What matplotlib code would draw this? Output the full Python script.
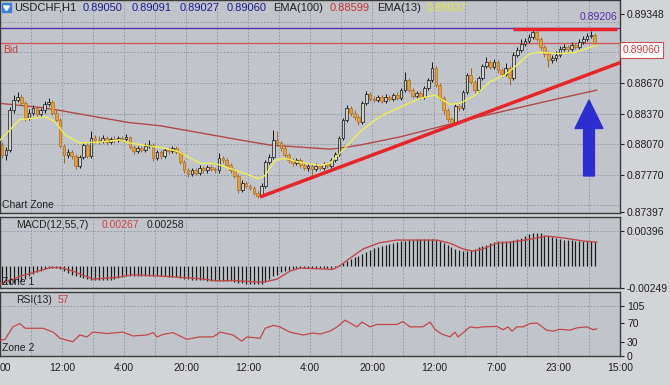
import matplotlib
matplotlib.use("Agg")
import matplotlib.pyplot as plt
import matplotlib.patches as mpatches
import matplotlib.transforms as mtrans
import numpy as np

plt.rcParams["font.family"] = ["Liberation Sans", "DejaVu Sans"]

###############################################################################
# Data (prices in pips, 1 pip = 0.0001)
###############################################################################
first_open = 8806
closes = [
    8796, 8801, 8840, 8850, 8853, 8847, 8833, 8838, 8842, 8837,
    8840, 8846, 8848, 8838, 8831, 8805, 8796, 8799, 8795, 8785,
    8794, 8806, 8795, 8813, 8811, 8810, 8813, 8809, 8812, 8811,
    8813, 8812, 8814, 8804, 8800, 8803, 8801, 8805, 8806, 8793,
    8799, 8795, 8801, 8800, 8803, 8799, 8789, 8781, 8778, 8781,
    8779, 8783, 8781, 8784, 8782, 8781, 8793, 8791, 8786, 8781,
    8776, 8762, 8769, 8766, 8764, 8759, 8756, 8766, 8789, 8794,
    8811, 8808, 8803, 8796, 8791, 8788, 8791, 8786, 8783, 8785,
    8782, 8785, 8783, 8787, 8785, 8791, 8797, 8813, 8831, 8842,
    8838, 8834, 8829, 8847, 8856, 8851, 8850, 8853, 8849, 8853,
    8851, 8855, 8852, 8860, 8870, 8860, 8854, 8857, 8853, 8862,
    8870, 8882, 8865, 8852, 8840, 8832, 8828, 8844, 8842, 8858,
    8875, 8868, 8860, 8872, 8884, 8888, 8883, 8888, 8880, 8876,
    8882, 8872, 8895, 8899, 8905, 8908, 8912, 8917, 8910, 8902,
    8896, 8890, 8892, 8895, 8900, 8902, 8900, 8904, 8902, 8907,
    8910, 8913, 8914, 8906,
]
highs = [
    8809, 8804, 8843, 8855, 8858, 8856, 8849, 8841, 8845, 8844,
    8842, 8849, 8852, 8850, 8840, 8833, 8807, 8802, 8801, 8797,
    8796, 8808, 8808, 8820, 8816, 8815, 8816, 8815, 8814, 8815,
    8815, 8815, 8817, 8815, 8806, 8805, 8805, 8808, 8811, 8808,
    8801, 8801, 8803, 8804, 8805, 8805, 8800, 8791, 8783, 8783,
    8783, 8786, 8785, 8786, 8786, 8784, 8798, 8795, 8793, 8788,
    8783, 8778, 8772, 8771, 8768, 8766, 8761, 8769, 8791, 8797,
    8821, 8820, 8810, 8805, 8798, 8793, 8793, 8793, 8788, 8787,
    8787, 8788, 8787, 8789, 8789, 8793, 8799, 8815, 8833, 8845,
    8844, 8840, 8836, 8849, 8859, 8858, 8854, 8855, 8855, 8856,
    8855, 8857, 8858, 8862, 8878, 8872, 8862, 8859, 8859, 8864,
    8872, 8888, 8884, 8867, 8854, 8842, 8834, 8846, 8847, 8860,
    8877, 8882, 8870, 8874, 8886, 8893, 8890, 8891, 8890, 8882,
    8887, 8884, 8897, 8902, 8910, 8911, 8915, 8921, 8919, 8912,
    8904, 8898, 8895, 8898, 8903, 8905, 8904, 8907, 8906, 8910,
    8913, 8916, 8918, 8916,
]
lows = [
    8793, 8791, 8799, 8838, 8848, 8845, 8830, 8831, 8836, 8835,
    8834, 8838, 8844, 8836, 8829, 8803, 8788, 8793, 8792, 8782,
    8783, 8792, 8793, 8793, 8808, 8807, 8808, 8806, 8807, 8808,
    8809, 8810, 8810, 8802, 8797, 8798, 8799, 8799, 8803, 8790,
    8791, 8792, 8793, 8797, 8798, 8797, 8787, 8779, 8775, 8776,
    8777, 8777, 8779, 8779, 8780, 8779, 8779, 8788, 8784, 8779,
    8774, 8759, 8760, 8764, 8762, 8757, 8754, 8755, 8764, 8787,
    8792, 8805, 8800, 8794, 8788, 8785, 8786, 8783, 8781, 8780,
    8775, 8780, 8781, 8781, 8783, 8783, 8789, 8795, 8811, 8829,
    8835, 8831, 8826, 8827, 8845, 8849, 8848, 8848, 8847, 8847,
    8849, 8849, 8850, 8850, 8858, 8858, 8852, 8852, 8851, 8851,
    8860, 8868, 8863, 8850, 8837, 8829, 8824, 8826, 8839, 8840,
    8856, 8866, 8857, 8858, 8870, 8882, 8881, 8881, 8877, 8873,
    8874, 8865, 8870, 8893, 8897, 8903, 8906, 8910, 8908, 8899,
    8893, 8883, 8887, 8889, 8893, 8898, 8897, 8898, 8900, 8900,
    8905, 8908, 8911, 8903,
]
opens = [first_open] + closes[:-1]  # each candle opens at previous close

# moving averages (bar index, pips)
ema13_x = [-0.5, 4.6, 9.8, 11.1, 13.7, 16.3, 20.1, 25.3, 30.5, 33, 38.2, 42,
           45.9, 51.1, 55, 58.8, 62.7, 66.1, 67.9, 70.5, 73, 76.9, 82.1,
           84.6, 88.5, 92.4, 97.5, 102.7, 107.9, 111.7, 115.6, 118.2, 122.1,
           125.9, 129.8, 132.4, 136.3, 138.8, 144, 147.9, 151.7, 153.5]
ema13_y = [8811, 8831, 8833, 8834, 8829, 8816, 8808, 8809, 8811, 8808, 8805,
           8803, 8799, 8788, 8788, 8783, 8778, 8773, 8776, 8791, 8793, 8789,
           8786, 8788, 8803, 8819, 8834, 8843, 8852, 8855, 8846, 8847, 8855,
           8868, 8875, 8883, 8896, 8897, 8896, 8897, 8902, 8904]
ema100_x = [-0.5, 9.8, 15, 25.3, 33, 40.8, 51.1, 61.4, 69.2, 76.9, 84.6, 87.2,
            92.4, 102.7, 113, 123.4, 133.7, 144, 153.5]
ema100_y = [8847, 8843, 8840, 8833, 8828, 8825, 8818, 8811, 8806, 8804, 8802,
            8803, 8806, 8814, 8824, 8834, 8843, 8852, 8860]

# drawn objects
trend_x = [66.6, 159.5]
trend_y = [0.87550, 0.88870]
resist_x = [132, 158.7]
resist_y = [0.89200, 0.89200]
bid = 0.89060
high_line = 0.89206

# MACD (units of 0.00001)
macd_hist = [
    -210, -205, -200, -190, -180, -170, -150, -120, -95, -75,
    -55, -40, -30, -25, -25, -35, -55, -80, -100, -115,
    -130, -140, -150, -160, -165, -165, -160, -160, -155, -150,
    -140, -130, -120, -110, -110, -110, -110, -110, -110, -115,
    -115, -120, -120, -125, -125, -130, -135, -145, -150, -155,
    -160, -160, -165, -170, -170, -175, -175, -170, -170, -175,
    -180, -190, -195, -200, -205, -210, -210, -200, -180, -150,
    -120, -100, -75, -55, -45, -35, -30, -30, -30, -30,
    -30, -30, -30, -30, -30, -25, -15, 5, 30, 55,
    75, 95, 110, 135, 160, 180, 200, 215, 225, 235,
    245, 255, 265, 275, 285, 290, 295, 300, 300, 300,
    300, 300, 295, 280, 260, 240, 215, 195, 175, 165,
    170, 180, 195, 210, 225, 240, 255, 265, 275, 280,
    285, 285, 290, 300, 315, 335, 355, 370, 375, 365,
    350, 335, 320, 310, 300, 295, 290, 290, 285, 285,
    285, 280, 275, 270,
]
signal_x = [-0.5, 4.6, 12.4, 15, 18.3, 23.5, 29.7, 33.8, 42.6, 51.1, 55.5,
            59.6, 64.8, 67.4, 71, 74.3, 76.9, 85.4, 87.2, 89.8, 93.2, 97.5,
            101.9, 112.3, 115.6, 119, 121.5, 124.1, 127.7, 131.9, 136.3,
            140.6, 144.8, 149.9, 153.5]
signal_y = [-205, -120, -20, -20, -60, -150, -130, -100, -120, -145, -170,
            -165, -180, -185, -150, -60, -25, -40, 0, 85, 190, 260, 290, 290,
            255, 190, 165, 190, 255, 270, 300, 335, 315, 280, 267]

# RSI(13)
rsi_x = [-0.5, 0.8, 2.8, 4.6, 6, 8, 10.6, 13.2, 15, 16.8, 18.3, 20.1, 21.9,
         23.5, 27.1, 31.2, 33.8, 37.4, 39, 40, 41.5, 44.1, 47.7, 51.1, 54.5,
         56.3, 59.6, 61.9, 63.2, 66.6, 67.9, 70, 71.7, 74.3, 77.7, 80.3,
         82.1, 84.6, 86.5, 88.5, 91.6, 92.9, 95, 96.8, 101.9, 103.5, 105.3,
         108.6, 110.5, 111.7, 113.5, 115.6, 116.9, 117.7, 120.8, 122.6,
         124.1, 127.7, 129.3, 130.6, 131.6, 132.9, 134.5, 136.3, 138.1,
         140.6, 142.2, 144, 146.6, 148.4, 151, 152.6, 153.5]
rsi_y = [33, 35, 61, 68, 58, 58, 58, 50, 37, 33, 30, 44, 40, 50, 47, 50, 42,
         44, 49, 40, 45, 49, 35, 40, 40, 50, 44, 31, 40, 37, 58, 64, 61, 50,
         44, 48, 46, 52, 61, 75, 61, 71, 61, 66, 66, 72, 61, 61, 71, 56, 46,
         40, 50, 40, 61, 59, 61, 62, 55, 61, 52, 61, 61, 68, 69, 54, 52, 56,
         54, 59, 61, 55, 57]

time_ticks = [-0.5 + 16 * k for k in range(11)]
time_labels = ["00", "12:00", "4:00", "20:00", "12:00", "4:00", "20:00",
               "12:00", "7:00", "23:00", "15:00"]
price_ticks = [0.87397, 0.87770, 0.88070, 0.88370, 0.88670, 0.89348]
price_grid = [0.8747, 0.8777, 0.8807, 0.8837, 0.8867, 0.8897, 0.8927]
last_ohlc = ["0.89050", "0.89091", "0.89027", "0.89060"]

###############################################################################
# Figure
###############################################################################
W, H = 670, 385
fig = plt.figure(figsize=(W / 100, H / 100), dpi=100, facecolor="#d2d4d8")


def fx(px):
    return px / W


def fy(py):
    return 1 - py / H


right = fx(620)
ax = fig.add_axes([0, fy(213), right, 213 / H])
axm = fig.add_axes([0, fy(288), right, 71 / H])
axr = fig.add_axes([0, fy(356), right, 64 / H])

GRID = dict(color="#8a929c", lw=0.6, ls=(0, (2, 2)), zorder=0)
TXT = "#202020"
for a in (ax, axm, axr):
    a.set_facecolor("#c1c5cb")
    a.set_xlim(-0.52, 159.5)
    for s in a.spines.values():
        s.set_color("#3a3a3a")
        s.set_linewidth(1.0)
    a.yaxis.tick_right()
    a.tick_params(axis="y", length=3, width=0.8, colors=TXT,
                  labelsize=7.5, pad=2)
    a.tick_params(axis="x", length=0)
    for gx in np.arange(7.5, 159, 8):
        a.axvline(gx, **GRID)
ax.set_xticks([])
axm.set_xticks([])

# ---- main panel -------------------------------------------------------------
ax.set_ylim(0.87392, 0.89486)
ax.set_yticks(price_ticks)
ax.set_yticklabels([f"{v:.5f}" for v in price_ticks])
for g in price_grid:
    ax.axhline(g, **GRID)

idx = np.arange(len(closes))
o = np.array(opens) * 1e-4
c = np.array(closes) * 1e-4
h = np.array(highs) * 1e-4
lo = np.array(lows) * 1e-4
up = c >= o
body = np.maximum(np.abs(c - o), 0.00002)
bottom = np.minimum(o, c)

ax.plot(np.array(ema100_x), np.array(ema100_y) * 1e-4, color="#b04a4a",
        lw=1.0, zorder=1.5)
ax.vlines(idx[up], lo[up], h[up], color="#151515", lw=0.7, zorder=2)
ax.vlines(idx[~up], lo[~up], h[~up], color="#a8661e", lw=0.7, zorder=2)
ax.bar(idx[up], body[up], bottom=bottom[up], width=0.7, color="#cfcfcf",
       edgecolor="#151515", lw=0.5, zorder=3)
ax.bar(idx[~up], body[~up], bottom=bottom[~up], width=0.7, color="#e6a03a",
       edgecolor="#b0701c", lw=0.5, zorder=3)
ax.plot(np.array(ema13_x), np.array(ema13_y) * 1e-4, color="#eeee55",
        lw=1.0, zorder=4)

ax.axhline(high_line, color="#5a2ca8", lw=1.0, zorder=1.6)
ax.axhline(bid, color="#d05a5a", lw=1.0, zorder=1.6)
ax.plot(resist_x, resist_y, color="#e8242a", lw=2.5, zorder=5,
        solid_capstyle="butt")
ax.plot(trend_x, trend_y, color="#e8242a", lw=2.5, zorder=5,
        solid_capstyle="butt")
ax.add_patch(mpatches.FancyArrow(
    151.5, 0.87756, 0, 0.00747, width=2.8, head_width=7.2,
    head_length=0.0028, length_includes_head=True, color="#2e2ed0",
    zorder=6))

ax.text(0.2, 0.89045, "Bid", color="#c83c3c", fontsize=7.5, va="top",
        ha="left", zorder=7)
ax.text(158.9, 0.89319, "0.89206", color="#5a2ca8", fontsize=7.5,
        va="center", ha="right", zorder=7)
blend = mtrans.blended_transform_factory(ax.transAxes, ax.transData)
ax.text(1.004, 0.88994, "0.89060", transform=blend, color="#d03c3c",
        fontsize=7.5, va="center", ha="left", clip_on=False, zorder=8,
        bbox=dict(boxstyle="square,pad=0.25", fc="white", ec="#d05050",
                  lw=0.8))

# ---- MACD panel -------------------------------------------------------------
axm.set_ylim(-0.0025, 0.0055)
axm.set_yticks([-0.00249, 0.00396])
axm.set_yticklabels(["-0.00249", "0.00396"])
axm.axhline(0.00396, **GRID)
axm.vlines(idx, 0, np.array(macd_hist) * 1e-5, color="#1a1a1a", lw=0.9,
           zorder=2)
axm.plot(np.array(signal_x), np.array(signal_y) * 1e-5, color="#c04848",
         lw=1.0, zorder=3)

# ---- RSI panel --------------------------------------------------------------
axr.set_ylim(0, 134)
axr.set_yticks([0, 30, 70, 105])
axr.set_yticklabels(["0", "30", "70", "105"])
axr.axhline(105, **GRID)
axr.plot(rsi_x, rsi_y, color="#c04848", lw=0.9, zorder=3)
axr.set_xticks(time_ticks)
axr.set_xticklabels(time_labels)
axr.tick_params(axis="x", labelsize=7.5, pad=5, colors=TXT)
axr.get_xticklabels()[0].set_ha("left")  # first label is cut at the edge

# ---- header / labels --------------------------------------------------------
fig.patches.append(mpatches.Rectangle((fx(2), fy(12)), 9 / W, 9 / H,
                                      transform=fig.transFigure,
                                      color="#3d7fd8", zorder=10))
fig.patches.append(mpatches.Polygon(
    [(fx(3.5), fy(6)), (fx(9.5), fy(6)), (fx(6.5), fy(10.5))],
    closed=True, transform=fig.transFigure, color="white", zorder=11))


def label(px, py, s, color=TXT, size=8):
    fig.text(fx(px), fy(py), s, color=color, fontsize=size, ha="left",
             va="center", zorder=12)


label(14, 8, "USDCHF,H1")
for xpos, val in zip([83, 132, 180, 227], last_ohlc):
    label(xpos, 8, val, "#1c1c8c")
label(273, 8, "EMA(100)")
label(330, 8, "0.88599", "#c03434")
label(377, 8, "EMA(13)")
label(427, 8, "0.89037", "#e6e63a")

label(2, 205, "Chart Zone", size=7.5)
label(16, 225, "MACD(12,55,7)", size=7.5)
label(102, 225, "0.00267", "#d04040", size=7.5)
label(147, 225, "0.00258", size=7.5)
label(2, 282, "Zone 1", size=7.5)
label(16, 300, "RSI(13)", size=7.5)
label(58, 300, "57", "#d04040", size=7.5)
label(2, 348, "Zone 2", size=7.5)

fig.savefig("out.png", dpi=100, facecolor=fig.get_facecolor())
